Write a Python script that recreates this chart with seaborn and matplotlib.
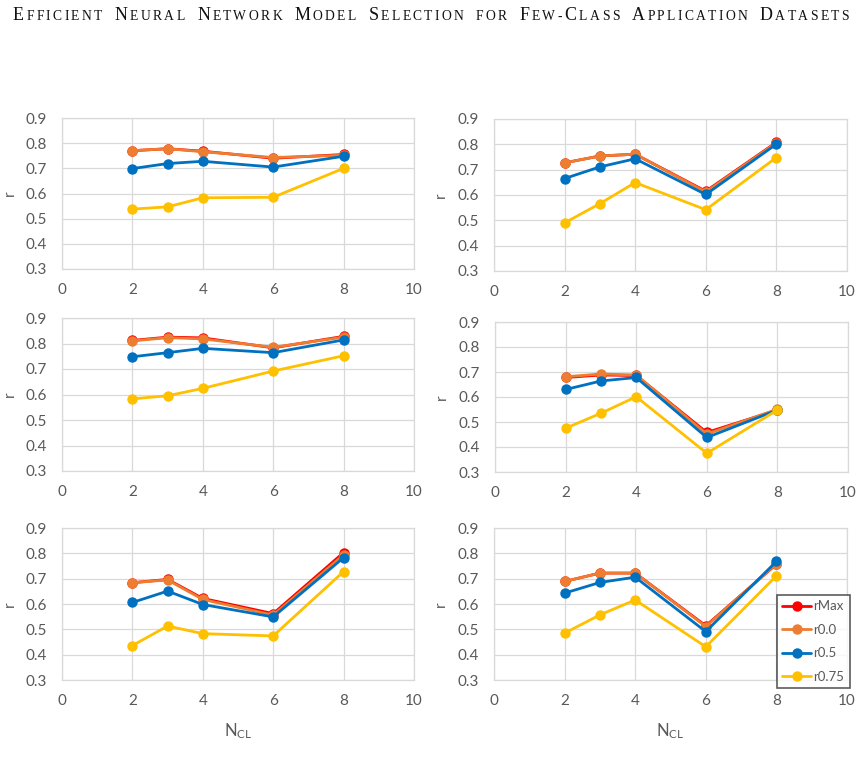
import matplotlib
matplotlib.use("Agg")
import matplotlib.pyplot as plt
import seaborn as sns
import pandas as pd
from matplotlib.offsetbox import TextArea, HPacker, AnchoredOffsetbox

# x positions (number of classes)
n_cl = [2, 3, 4, 6, 8]

series_names = ["rMax", "r0.0", "r0.5", "r0.75"]
series_colors = ["#FF0000", "#ED7D31", "#0070C0", "#FFC000"]

# panel values, rows: rMax, r0.0, r0.5, r0.75
panel_a = [[0.770, 0.778, 0.768, 0.740, 0.755],
           [0.770, 0.778, 0.766, 0.743, 0.752],
           [0.699, 0.719, 0.728, 0.705, 0.748],
           [0.538, 0.547, 0.583, 0.585, 0.700]]
panel_b = [[0.727, 0.754, 0.761, 0.615, 0.808],
           [0.727, 0.754, 0.761, 0.612, 0.806],
           [0.665, 0.711, 0.743, 0.602, 0.801],
           [0.490, 0.566, 0.649, 0.542, 0.748]]
panel_c = [[0.812, 0.825, 0.822, 0.783, 0.828],
           [0.810, 0.823, 0.818, 0.785, 0.825],
           [0.748, 0.764, 0.781, 0.764, 0.814],
           [0.583, 0.595, 0.624, 0.692, 0.752]]
panel_d = [[0.678, 0.688, 0.686, 0.458, 0.548],
           [0.681, 0.692, 0.688, 0.452, 0.551],
           [0.630, 0.664, 0.678, 0.438, 0.548],
           [0.475, 0.535, 0.601, 0.375, 0.548]]
panel_e = [[0.684, 0.697, 0.622, 0.562, 0.803],
           [0.684, 0.695, 0.618, 0.556, 0.794],
           [0.606, 0.651, 0.598, 0.549, 0.783],
           [0.436, 0.513, 0.483, 0.474, 0.728]]
panel_f = [[0.689, 0.722, 0.722, 0.514, 0.757],
           [0.689, 0.722, 0.722, 0.511, 0.759],
           [0.643, 0.685, 0.706, 0.491, 0.768],
           [0.485, 0.557, 0.616, 0.431, 0.711]]
panels = [panel_a, panel_b, panel_c, panel_d, panel_e, panel_f]

x_ticks = [0, 2, 4, 6, 8, 10]
y_ticks = [0.3, 0.4, 0.5, 0.6, 0.7, 0.8, 0.9]
y_tick_labels = ["0.3", "0.4", "0.5", "0.6", "0.7", "0.8", "0.9"]

sns.set_style("white")
plt.rcParams["font.family"] = ["Lato", "DejaVu Sans"]

grey = "#595959"
grid_c = "#d9d9d9"

fig = plt.figure(figsize=(8.62, 7.63), dpi=100)
W, H = 862, 763

# axes boxes in pixels: left, top, right, bottom
boxes = [(62, 118, 414, 269), (494, 119, 847, 271),
         (62, 318, 414, 471), (495, 322, 848, 472),
         (62, 528, 414, 680), (494, 528, 847, 680)]

axes = []
for i, (l, t, r, b) in enumerate(boxes):
    ax = fig.add_axes([l / W, 1 - b / H, (r - l) / W, (b - t) / H])
    axes.append(ax)
    vals = panels[i]
    for name, color, ys in zip(series_names, series_colors, vals):
        df = pd.DataFrame({"N": n_cl, "r": ys})
        sns.lineplot(data=df, x="N", y="r", ax=ax, color=color, marker="o",
                     markersize=7.5, markeredgewidth=0, linewidth=2, label=name,
                     legend=False)
    ax.set_xlim(0, 10)
    ax.set_ylim(0.3, 0.9)
    ax.set_xticks(x_ticks)
    ax.set_yticks(y_ticks)
    ax.set_yticklabels(y_tick_labels)
    ax.grid(True, color=grid_c, linewidth=0.9)
    ax.set_axisbelow(True)
    for s in ax.spines.values():
        s.set_color(grid_c)
        s.set_linewidth(0.9)
    ax.tick_params(axis="both", length=0, labelsize=11, labelcolor=grey)
    ax.tick_params(axis="y", pad=11)
    ax.tick_params(axis="x", pad=10)
    ax.set_ylabel("r", fontsize=11, color=grey, va="center")
    ax.yaxis.set_label_coords(-0.148 if l < 400 else -0.150, 0.5)
    if i >= 4:
        ax.set_xlabel(r"$\mathregular{N_{CL}}$", fontsize=12, color=grey, va="top")
        ax.xaxis.set_label_coords(0.5, -0.27)
    else:
        ax.set_xlabel("")

leg = axes[5].legend(loc="upper left", bbox_to_anchor=(0.802, 0.559), fontsize=9.5,
                     frameon=True, fancybox=False, edgecolor="#333333",
                     handlelength=2.2, handletextpad=0.15, labelspacing=0.87,
                     borderpad=0.4, borderaxespad=0)
leg.get_frame().set_linewidth(1.2)
for txt in leg.get_texts():
    txt.set_color(grey)

# small-caps running title, packed letter by letter
big = dict(family="Liberation Serif", size=13, color="#111111")
small = dict(family="Liberation Serif", size=9.8, color="#111111")
title_words = [("E", "FFICIENT"), ("N", "EURAL"), ("N", "ETWORK"), ("M", "ODEL"),
               ("S", "ELECTION"), ("", "FOR"), ("F", "EW-", "C", "LASS"),
               ("A", "PPLICATION"), ("D", "ATASETS")]
word_boxes = []
n_gaps = 0
for w in title_words:
    letters = []
    for k, piece in enumerate(w):
        props = big if k % 2 == 0 else small
        for ch in piece:
            letters.append(TextArea(ch, textprops=props))
    n_gaps += len(letters) - 1
    word_boxes.append(HPacker(children=letters, align="baseline", pad=0, sep=0))
title_box = HPacker(children=word_boxes, align="baseline", pad=0, sep=9)
anch = AnchoredOffsetbox(loc="center", child=title_box, frameon=False, pad=0,
                         borderpad=0, bbox_to_anchor=(0.5, 1 - 16 / H),
                         bbox_transform=fig.transFigure)
fig.add_artist(anch)

# spread the letters so the title spans the same width as the page header
fig.canvas.draw()
renderer = fig.canvas.get_renderer()
w0 = anch.get_window_extent(renderer).width
letter_sep = (836 - w0) / n_gaps / renderer.points_to_pixels(1.0)
for wb in word_boxes:
    wb.sep = letter_sep

fig.savefig("out.png", dpi=100)
